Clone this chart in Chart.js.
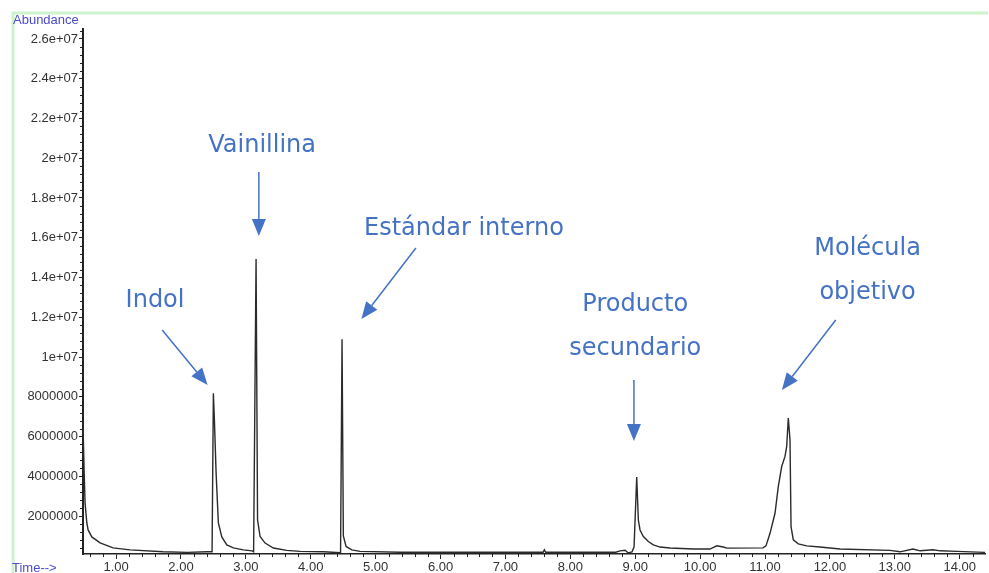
<!DOCTYPE html>
<html>
  <head>
    <meta charset="utf-8" />
    <script src="https://cdn.jsdelivr.net/npm/chart.js@4/dist/chart.umd.min.js"></script>
    <style>
      body { margin: 0; background: #fff; }
    </style>
  </head>
  <body>
    <canvas id="chart-tic" width="989" height="573"></canvas>
    <script>
      // INPUT DATA  (retention time in min / abundance)

      const retentionTimes = [
        0.49, 0.507, 0.522, 0.549, 0.569, 0.626, 0.753, 0.954, 1.216, 1.724,
        2.10, 2.40, 2.479, 2.499, 2.515, 2.541, 2.576, 2.629, 2.706, 2.807,
        2.961, 3.096, 3.119, 3.157, 3.180, 3.219, 3.296, 3.424, 3.630, 3.835,
        4.20, 4.459, 4.482, 4.502, 4.544, 4.632, 4.760, 5.376, 6.50, 7.58,
        7.60, 7.62, 8.70, 8.766, 8.843, 8.89, 8.951, 8.982, 9.023, 9.048,
        9.074, 9.125, 9.202, 9.279, 9.382, 9.536, 9.895, 10.152, 10.256, 10.357,
        10.414, 10.969, 11.015, 11.077, 11.154, 11.205, 11.257, 11.308, 11.334, 11.359,
        11.385, 11.401, 11.436, 11.513, 11.642, 11.847, 12.155, 12.926, 13.08, 13.28,
        13.39, 13.588, 13.70, 13.958, 14.39
      ];
      const abundance = [
        6650000, 4300000, 2650000, 1650000, 1300000, 950000, 650000, 400000, 300000, 200000,
        170000, 200000, 200000, 8170000, 6830000, 4170000, 1650000, 950000, 550000, 400000,
        300000, 250000, 200000, 14930000, 1800000, 970000, 640000, 390000, 270000, 220000,
        200000, 150000, 10890000, 1000000, 470000, 300000, 220000, 180000, 180000, 180000,
        300000, 180000, 180000, 250000, 280000, 150000, 200000, 450000, 3960000, 1800000,
        1300000, 970000, 720000, 550000, 440000, 390000, 340000, 340000, 500000, 440000,
        385000, 400000, 500000, 1130000, 2140000, 3490000, 4490000, 5000000, 5500000, 6930000,
        5830000, 1470000, 800000, 600000, 500000, 440000, 340000, 270000, 200000, 340000,
        250000, 300000, 250000, 220000, 170000
      ];

      const timeTicks = [1, 2, 3, 4, 5, 6, 7, 8, 9, 10, 11, 12, 13, 14];
      const abundanceTicks = [
        2000000, 4000000, 6000000, 8000000, 10000000, 12000000, 14000000,
        16000000, 18000000, 20000000, 22000000, 24000000, 26000000
      ];

      // peak names and arrows, anchored in data units [time, abundance]
      const peakLabels = [
        { lines: ["Indol"], at: [1.60, 12820000] },
        { lines: ["Vainillina"], at: [3.25, 20620000] },
        { lines: ["Estándar interno"], at: [6.36, 16440000] },
        { lines: ["Producto", "secundario"], at: [9.0, 12620000] },
        { lines: ["Molécula", "objetivo"], at: [12.58, 15430000] }
      ];
      const peakArrows = [
        { from: [1.71, 11360000], to: [2.41, 8590000] },
        { from: [3.20, 19310000], to: [3.20, 16090000] },
        { from: [5.62, 15480000], to: [4.78, 11910000] },
        { from: [8.98, 8840000], to: [8.98, 5770000] },
        { from: [12.09, 11860000], to: [11.26, 8340000] }
      ];

      // PLOTTING

      const axisFont = { family: "'Liberation Sans', Arial, sans-serif", size: 13 };
      const noteColor = "#4472c4";

      function formatAbundance(v) {
        if (v >= 10000000) {
          return parseFloat((v / 10000000).toFixed(1)) + "e+07";
        }
        return String(v);
      }

      const decorPlugin = {
        id: "chromDecor",
        beforeDraw(chart) {
          const ctx = chart.ctx;
          ctx.save();
          ctx.fillStyle = "#fff";
          ctx.fillRect(0, 0, chart.width, chart.height);
          // pale green frame of the data window
          ctx.strokeStyle = "#cdf3cd";
          ctx.lineWidth = 3;
          ctx.beginPath();
          ctx.moveTo(13, chart.height);
          ctx.lineTo(13, 13);
          ctx.lineTo(988, 13);
          ctx.stroke();
          ctx.restore();
        },
        afterDraw(chart) {
          const ctx = chart.ctx;
          const xs = chart.scales.x;
          const ys = chart.scales.y;
          const area = chart.chartArea;
          ctx.save();

          // minor ticks
          ctx.strokeStyle = "#222";
          ctx.lineWidth = 1;
          ctx.beginPath();
          for (let v = 400000; v <= ys.max; v += 400000) {
            if (Math.abs(v % 2000000) < 1) continue;
            const py = Math.round(ys.getPixelForValue(v)) + 0.5;
            ctx.moveTo(area.left - 3, py);
            ctx.lineTo(area.left, py);
          }
          for (let i = 3; i * 0.2 <= xs.max; i++) {
            if (i % 5 === 0) continue;
            const px = Math.round(xs.getPixelForValue(i * 0.2)) + 0.5;
            ctx.moveTo(px, area.bottom);
            ctx.lineTo(px, area.bottom + 3);
          }
          ctx.stroke();

          // axis captions
          ctx.fillStyle = "#4b4bcc";
          ctx.font = "13px 'Liberation Sans', Arial, sans-serif";
          ctx.textBaseline = "middle";
          ctx.textAlign = "left";
          ctx.fillText("Abundance", 13, 20);
          ctx.fillText("Time-->", 12, 568);

          // peak names
          ctx.fillStyle = noteColor;
          ctx.font = "24px 'DejaVu Sans', sans-serif";
          ctx.textAlign = "center";
          peakLabels.forEach(function (p) {
            const cx = xs.getPixelForValue(p.at[0]);
            const cy = ys.getPixelForValue(p.at[1]);
            p.lines.forEach(function (line, k) {
              ctx.fillText(line, cx, cy + k * 44);
            });
          });

          // arrows
          ctx.strokeStyle = noteColor;
          ctx.lineWidth = 1.5;
          peakArrows.forEach(function (a) {
            const x1 = xs.getPixelForValue(a.from[0]);
            const y1 = ys.getPixelForValue(a.from[1]);
            const x2 = xs.getPixelForValue(a.to[0]);
            const y2 = ys.getPixelForValue(a.to[1]);
            const ang = Math.atan2(y2 - y1, x2 - x1);
            const head = 17, half = 7;
            const bx = x2 - head * Math.cos(ang);
            const by = y2 - head * Math.sin(ang);
            ctx.beginPath();
            ctx.moveTo(x1, y1);
            ctx.lineTo(bx, by);
            ctx.stroke();
            ctx.beginPath();
            ctx.moveTo(x2, y2);
            ctx.lineTo(bx + half * Math.sin(ang), by - half * Math.cos(ang));
            ctx.lineTo(bx - half * Math.sin(ang), by + half * Math.cos(ang));
            ctx.closePath();
            ctx.fill();
          });

          ctx.restore();
        }
      };

      const ticData = {
        datasets: [
          {
            label: "TIC",
            data: retentionTimes.map(function (t, i) {
              return { x: t, y: abundance[i] };
            }),
            borderColor: "#2b2b2b",
            borderWidth: 1.4,
            pointRadius: 0,
            tension: 0,
            fill: false
          }
        ]
      };

      const ctx = document.getElementById("chart-tic").getContext("2d");
      const ticChart = new Chart(ctx, {
        type: "line",
        data: ticData,
        plugins: [decorPlugin],
        options: {
          responsive: false,
          animation: false,
          layout: { padding: { left: 0, top: 29, right: 4, bottom: 0 } },
          plugins: {
            legend: { display: false },
            tooltip: { enabled: false }
          },
          scales: {
            x: {
              type: "linear",
              min: 0.49,
              max: 14.39,
              afterBuildTicks: function (scale) {
                scale.ticks = timeTicks.map(function (v) { return { value: v }; });
              },
              afterFit: function (scale) { scale.height = 19; },
              grid: {
                drawOnChartArea: false,
                tickLength: 5,
                tickColor: "#222",
                tickWidth: 1
              },
              border: { color: "#222", width: 1.5 },
              ticks: {
                autoSkip: false,
                maxRotation: 0,
                padding: 1,
                color: "#333",
                font: axisFont,
                callback: function (v) { return v.toFixed(2); }
              }
            },
            y: {
              min: 90000,
              max: 26500000,
              afterBuildTicks: function (scale) {
                scale.ticks = abundanceTicks.map(function (v) { return { value: v }; });
              },
              afterFit: function (scale) { scale.width = 83; },
              grid: {
                drawOnChartArea: false,
                tickLength: 4,
                tickColor: "#222",
                tickWidth: 1
              },
              border: { color: "#222", width: 2 },
              ticks: {
                padding: 1,
                color: "#333",
                font: axisFont,
                callback: formatAbundance
              }
            }
          }
        }
      });
    </script>
  </body>
</html>
